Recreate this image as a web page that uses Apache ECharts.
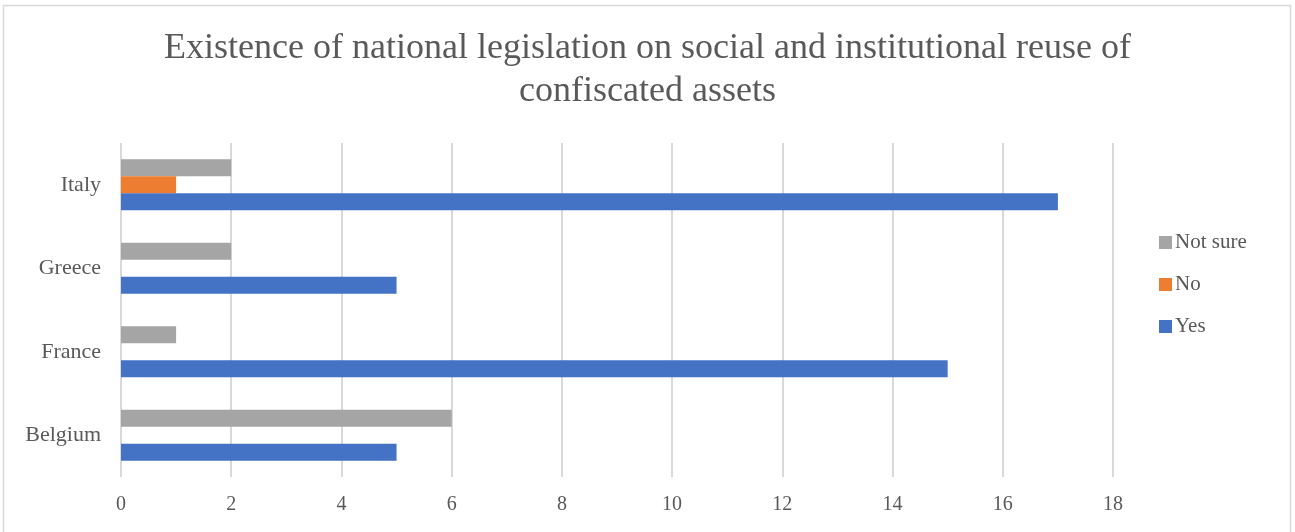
<!DOCTYPE html>
<html>
<head>
<meta charset="utf-8">
<script src="https://cdn.jsdelivr.net/npm/echarts@6/dist/echarts.min.js"></script>
<style>
  html, body { margin: 0; padding: 0; background: #fff; }
  #chart { width: 1295px; height: 532px; }
</style>
</head>
<body>
<div id="chart"></div>
<script>
// Countries (bottom to top on the category axis)
const countries = ['Belgium', 'France', 'Greece', 'Italy'];
// Number of answers per country
const yesValues = [5, 15, 5, 17];
const noValues = [0, 0, 0, 1];
const notSureValues = [6, 1, 2, 2];
// Value axis ticks
const axisMin = 0;
const axisMax = 18;
const axisStep = 2;

const FONT = 'Liberation Serif';
const TEXT = '#595959';

const chart = echarts.init(document.getElementById('chart'));

const barCommon = { type: 'bar', barGap: '0%', barCategoryGap: '39%' };

chart.setOption({
  animation: false,
  backgroundColor: '#ffffff',
  title: {
    text: 'Existence of national legislation on social and institutional reuse of\nconfiscated assets',
    left: 'center',
    top: 22,
    textStyle: {
      fontFamily: FONT,
      fontSize: 36,
      fontWeight: 'normal',
      color: TEXT,
      lineHeight: 43
    }
  },
  graphic: [{
    type: 'rect',
    shape: { x: 3.5, y: 5.5, width: 1287, height: 540 },
    style: { fill: 'none', stroke: '#D9D9D9', lineWidth: 1.5 },
    silent: true,
    z: -1
  }],
  legend: {
    orient: 'vertical',
    left: 1154,
    top: 227,
    itemWidth: 13,
    itemHeight: 13,
    itemGap: 21,
    icon: 'rect',
    data: ['Not sure', 'No', 'Yes'],
    textStyle: { fontFamily: FONT, fontSize: 21, color: TEXT, padding: [0, 0, 0, -2] }
  },
  grid: {
    left: 121,
    right: 182,
    top: 143,
    bottom: 55,
    containLabel: false
  },
  xAxis: {
    type: 'value',
    min: axisMin,
    max: axisMax,
    interval: axisStep,
    axisLine: { show: false },
    axisTick: { show: false },
    axisLabel: { fontFamily: FONT, fontSize: 20, color: TEXT, margin: 18 },
    splitLine: { show: true, lineStyle: { color: '#D9D9D9', width: 2 } }
  },
  yAxis: {
    type: 'category',
    data: countries,
    axisLine: { show: false },
    axisTick: { show: false },
    axisLabel: { fontFamily: FONT, fontSize: 22, color: TEXT, margin: 20 },
    splitLine: { show: false }
  },
  // Listed top-to-bottom within each country band
  series: [
    Object.assign({ name: 'Not sure', data: notSureValues, itemStyle: { color: '#A5A5A5' } }, barCommon),
    Object.assign({ name: 'No', data: noValues, itemStyle: { color: '#ED7D31' } }, barCommon),
    Object.assign({ name: 'Yes', data: yesValues, itemStyle: { color: '#4472C4' } }, barCommon)
  ]
});
</script>
</body>
</html>
